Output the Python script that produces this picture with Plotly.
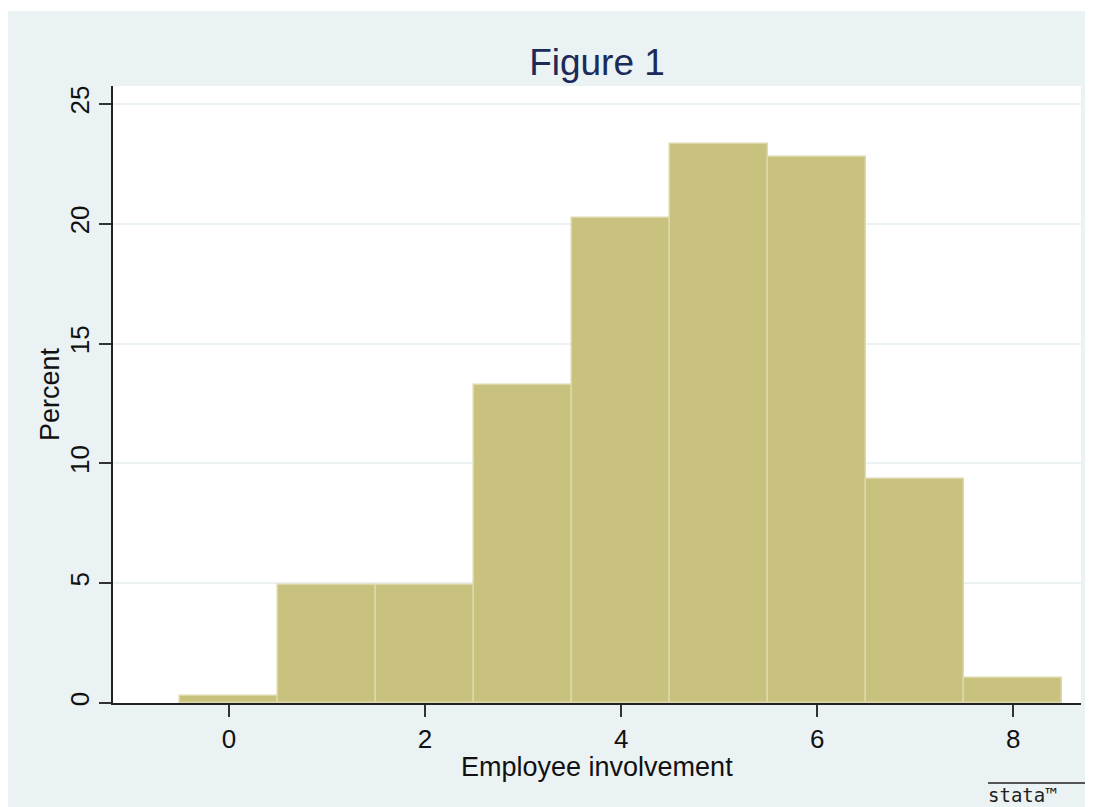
import plotly.graph_objects as go

# Data
bin_centers = [0, 1, 2, 3, 4, 5, 6, 7, 8]
percent = [0.28, 4.92, 4.92, 13.27, 20.23, 23.33, 22.8, 9.35, 1.03]
y_ticks = [0, 5, 10, 15, 20, 25]
x_ticks = [0, 2, 4, 6, 8]

OFF = 8  # browser body margin
W, H = 1093 - OFF, 807 - OFF
# plot area in page pixels
L, R, T, B = 113, 1081, 86, 703

def xp(px):
    return (px - L) / (R - L)

def yp(py):
    return (B - py) / (B - T)

BG = "#EAF2F3"
fig = go.Figure()
fig.add_trace(go.Bar(
    x=bin_centers, y=percent, width=1,
    marker=dict(color="#C9C27F", line=dict(color="#DDD8AA", width=1.5)),
    showlegend=False, hoverinfo="x+y",
))

font = "Liberation Sans, Arial, sans-serif"
fig.update_layout(
    width=W, height=H,
    margin=dict(l=L - OFF, r=(W + OFF) - R, t=T - OFF, b=(H + OFF) - B, pad=0),
    paper_bgcolor=BG, plot_bgcolor="white",
    font=dict(family=font, color="#111111", size=26),
    bargap=0,
    title=dict(text="Figure 1", x=0.5, xref="paper", xanchor="center",
               y=1 - (62 - OFF) / H, yref="container", yanchor="middle",
               font=dict(family=font, size=37, color="#1C2A59")),
    xaxis=dict(range=[-1.182, 8.69], tickvals=x_ticks, showgrid=False,
               zeroline=False, showline=True, linecolor="#222222", linewidth=1.5,
               ticks="outside", ticklen=12, tickwidth=1.5, tickcolor="#333333",
               tickfont=dict(size=26, family=font, color="#111111")),
    yaxis=dict(range=[0, 25.75], tickvals=y_ticks, showgrid=True,
               gridcolor=BG, gridwidth=2, zeroline=False,
               showline=True, linecolor="#222222", linewidth=1.5,
               ticks="outside", ticklen=12, tickwidth=1.5, tickcolor="#333333",
               tickangle=-90,
               tickfont=dict(size=26, family=font, color="#111111")),
)

annotations = [
    dict(text="Employee involvement", x=xp(597), y=yp(767), xref="paper", yref="paper",
         showarrow=False, xanchor="center", yanchor="middle",
         font=dict(size=27, family=font, color="#111111")),
    dict(text="Percent", x=xp(50), y=yp(394), xref="paper", yref="paper",
         showarrow=False, xanchor="center", yanchor="middle", textangle=-90,
         font=dict(size=27, family=font, color="#111111")),
    dict(text="stata™", x=xp(986), y=yp(795), xref="paper", yref="paper",
         showarrow=False, xanchor="left", yanchor="middle",
         font=dict(size=19, family="DejaVu Sans Mono", color="#222222")),
]
fig.update_layout(annotations=annotations)

shapes = [
    # thin white strip at the top
    dict(type="rect", xref="paper", yref="paper", x0=xp(0), x1=xp(1100), y0=yp(11), y1=yp(0),
         fillcolor="white", line=dict(width=0), layer="above"),
    # stata logo overline
    dict(type="line", xref="paper", yref="paper", x0=xp(988), x1=xp(1093), y0=yp(783), y1=yp(783),
         line=dict(color="#222222", width=1.5), layer="above"),
]
fig.update_layout(shapes=shapes)

fig.write_html("out.html")
